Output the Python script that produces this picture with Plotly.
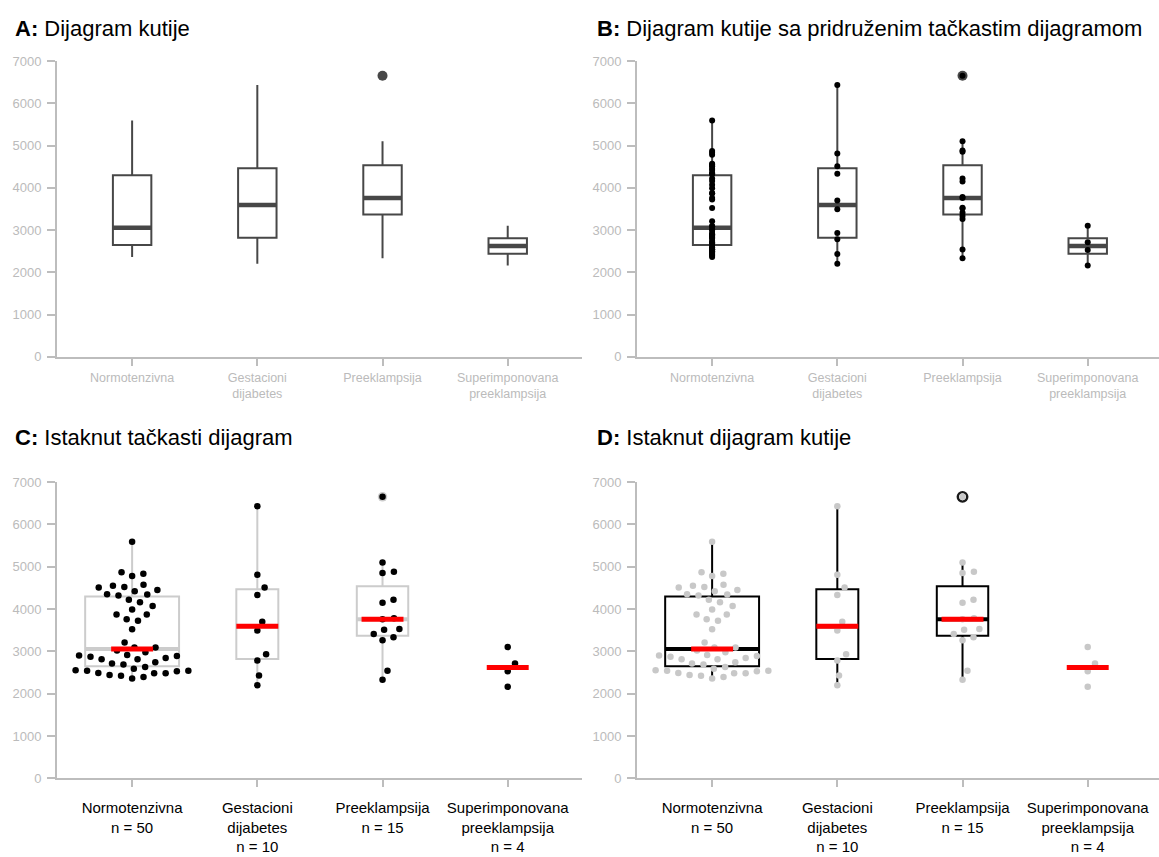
import numpy as np
import plotly.graph_objects as go

# ---------------- data ----------------
categories = ["Normotenzivna", "Gestacioni dijabetes", "Preeklampsija", "Superimponovana preeklampsija"]
tick_labels = ["Normotenzivna", "Gestacioni<br>dijabetes", "Preeklampsija", "Superimponovana<br>preeklampsija"]

normotenzivna = [5590, 4870, 4830, 4780, 4570, 4550, 4520, 4510, 4450, 4420,
                 4350, 4340, 4320, 4220, 4160, 4070, 3990, 3870, 3870, 3760,
                 3720, 3520, 3210, 3090, 3090, 3020, 2980, 2910, 2900, 2890,
                 2870, 2840, 2810, 2810, 2740, 2710, 2690, 2630, 2590, 2550,
                 2540, 2540, 2530, 2490, 2480, 2480, 2440, 2420, 2390, 2360]
gestacioni = [6430, 4810, 4510, 4330, 3700, 3490, 2930, 2780, 2430, 2200]
preeklampsija = [6650, 5100, 4880, 4850, 4220, 4150, 3780, 3760, 3530, 3510,
                 3410, 3330, 3260, 2540, 2330]
superimponovana = [3100, 2710, 2530, 2160]

groups = [normotenzivna, gestacioni, preeklampsija, superimponovana]
y_ticks = [0, 1000, 2000, 3000, 4000, 5000, 6000, 7000]

titles = ["<b>A:</b> Dijagram kutije",
          "<b>B:</b> Dijagram kutije sa pridruženim tačkastim dijagramom",
          "<b>C:</b> Istaknut tačkasti dijagram",
          "<b>D:</b> Istaknut dijagram kutije"]

# ---------------- layout helpers ----------------
W, H = 1159, 857
FONT = "Liberation Sans, Arial, sans-serif"
PPU = 125.2                      # px per category unit
panels = [dict(x0=57, x1=582, y0=55, y1=356),
          dict(x0=637, x1=1159, y0=55, y1=356),
          dict(x0=57, x1=582, y0=483.5, y1=785),
          dict(x0=637, x1=1159, y0=483.5, y1=785)]
AX_GRAY = "#bdbdbd"
PPU_Y = (356 - 55) / 7000.0


def stats(v):
    a = np.sort(np.asarray(v, dtype=float))
    q1, med, q3 = np.percentile(a, [25, 50, 75])
    iqr = q3 - q1
    lo_f, hi_f = q1 - 1.5 * iqr, q3 + 1.5 * iqr
    lo = a[a >= lo_f].min()
    hi = a[a <= hi_f].max()
    out = a[(a < lo_f) | (a > hi_f)]
    return q1, med, q3, lo, hi, out


def swarm(values, d=10.0, sx=1.15):
    vals = np.asarray(values, dtype=float)
    order = np.argsort(vals, kind="stable")
    placed = []
    offs = np.zeros(len(vals))
    for i in order:
        y = vals[i] * PPU_Y
        cands = [0.0]
        for xp, yp in placed:
            dy = abs(y - yp)
            if dy < d:
                dx = np.sqrt(d * d - dy * dy) * sx
                cands += [xp + dx, xp - dx]
        ok = []
        for c in cands:
            if all(((c - xp) / sx) ** 2 + (y - yp) ** 2 >= d * d - 1e-6 for xp, yp in placed):
                ok.append(c)
        best = min(ok, key=lambda c: (round(abs(c), 6), c < 0))
        placed.append((best, y))
        offs[i] = best / PPU
    return offs


fig = go.Figure()


def ax(k):
    return ("x" if k == 0 else "x%d" % (k + 1)), ("y" if k == 0 else "y%d" % (k + 1))


def seg_line(k, xs_pairs, yv, color, width):
    xa, ya = ax(k)
    xs, ys = [], []
    for (a, b), y in zip(xs_pairs, yv):
        xs += [a, b, None]
        ys += [y, y, None]
    fig.add_trace(go.Scatter(x=xs, y=ys, mode="lines", line=dict(color=color, width=width),
                             xaxis=xa, yaxis=ya, showlegend=False, hoverinfo="skip"))


def add_box(k, i, v, w, color, width=2):
    xa, ya = ax(k)
    q1, med, q3, lo, hi, out = stats(v)
    fig.add_trace(go.Box(x=[i], q1=[q1], median=[med], q3=[q3], lowerfence=[lo], upperfence=[hi],
                         width=w, orientation="v", line=dict(color=color, width=width),
                         fillcolor="rgba(0,0,0,0)", whiskerwidth=0, boxpoints=False,
                         xaxis=xa, yaxis=ya, showlegend=False, hoverinfo="skip"))


def add_points(k, xs, ys, color, size, symbol="circle", lw=0, lcolor=None):
    xa, ya = ax(k)
    fig.add_trace(go.Scatter(x=xs, y=ys, mode="markers",
                             marker=dict(color=color, size=size, symbol=symbol,
                                         line=dict(width=lw, color=lcolor or color)),
                             xaxis=xa, yaxis=ya, showlegend=False, hoverinfo="skip", cliponaxis=False))


BOX_W = 0.307
RED_W = 0.335
VAR_W = 0.75
n_max = max(len(g) for g in groups)

# ---------- Panel A & B ----------
DARK = "#474747"
for k in (0, 1):
    meds = []
    for i, g in enumerate(groups):
        add_box(k, i, g, BOX_W, DARK, 2)
        meds.append(stats(g)[1])
    seg_line(k, [(i - BOX_W / 2, i + BOX_W / 2) for i in range(4)], meds, DARK, 4.5)
    ox, oy = [], []
    for i, g in enumerate(groups):
        out = stats(g)[5]
        ox += [i] * len(out)
        oy += list(out)
    add_points(k, ox, oy, DARK, 10)
    if k == 1:
        px, py = [], []
        for i, g in enumerate(groups):
            px += [i] * len(g)
            py += list(g)
        add_points(k, px, py, "#000000", 6)

# ---------- Panel C & D ----------
for k in (2, 3):
    box_col = "#cccccc" if k == 2 else "#000000"
    pt_col = "#000000" if k == 2 else "#c8c8c8"
    meds_box, pairs_box, meds_all = [], [], []
    for i, g in enumerate(groups):
        med = stats(g)[1]
        meds_all.append(med)
        if len(g) >= 5:
            w = VAR_W * np.sqrt(len(g) / n_max)
            add_box(k, i, g, w, box_col, 2)
            meds_box.append(med)
            pairs_box.append((i - w / 2, i + w / 2))
    seg_line(k, pairs_box, meds_box, box_col, 4)
    ox, oy = [], []
    for i, g in enumerate(groups):
        if len(g) >= 5:
            out = stats(g)[5]
            ox += [i] * len(out)
            oy += list(out)
    if k == 2:
        add_points(k, ox, oy, "#cccccc", 9.5)
    else:
        add_points(k, ox, oy, "#1a1a1a", 9.5, symbol="circle-open", lw=2.4)
    px, py = [], []
    for i, g in enumerate(groups):
        offs = swarm(g)
        px += list(i + offs)
        py += list(g)
    add_points(k, px, py, pt_col, 6.5)
    seg_line(k, [(i - RED_W / 2, i + RED_W / 2) for i in range(4)], meds_all, "#ff0000", 5)

# ---------------- axes ----------------
layout = dict(width=W, height=H, margin=dict(l=0, r=0, t=0, b=0),
              paper_bgcolor="white", plot_bgcolor="white", showlegend=False,
              font=dict(family=FONT), boxmode="overlay")

for k, p in enumerate(panels):
    xs = "xaxis" if k == 0 else "xaxis%d" % (k + 1)
    ys = "yaxis" if k == 0 else "yaxis%d" % (k + 1)
    xa, ya = ax(k)
    big = k >= 2
    if big:
        ticktext = [t + "<br>n = %d" % len(g) for t, g in zip(tick_labels, groups)]
    else:
        ticktext = tick_labels
    layout[xs] = dict(domain=[p["x0"] / W, p["x1"] / W], anchor=ya,
                      range=[-0.6, -0.6 + (p["x1"] - p["x0"]) / PPU],
                      tickmode="array", tickvals=list(range(4)), ticktext=ticktext,
                      showline=True, linecolor=AX_GRAY, linewidth=2,
                      ticks="outside", ticklen=7, tickwidth=2, tickcolor=AX_GRAY,
                      ticklabelstandoff=8 if big else 1,
                      tickfont=dict(size=15 if big else 12.5, color="#000000" if big else "#bbbbbb", family=FONT),
                      showgrid=False, zeroline=False, fixedrange=True)
    layout[ys] = dict(domain=[1 - p["y1"] / H, 1 - p["y0"] / H], anchor=xa,
                      range=[0, 7000], tickmode="array", tickvals=y_ticks,
                      ticktext=[str(t) for t in y_ticks],
                      showline=True, linecolor=AX_GRAY, linewidth=2,
                      ticks="outside", ticklen=8, tickwidth=2, tickcolor=AX_GRAY,
                      ticklabelstandoff=3,
                      tickfont=dict(size=13, color="#bbbbbb", family=FONT),
                      showgrid=False, zeroline=False, fixedrange=True)

title_pos = [(13, 21.5), (595, 21.5), (13, 438.5), (595, 438.5)]
ann = []
for t, (x, y) in zip(titles, title_pos):
    ann.append(dict(text=t, xref="paper", yref="paper", x=x / W, y=1 - y / H,
                    xanchor="left", yanchor="middle", showarrow=False,
                    font=dict(size=22, color="#000000", family=FONT)))
layout["annotations"] = ann

fig.update_layout(**layout)
fig.write_html("out.html")
